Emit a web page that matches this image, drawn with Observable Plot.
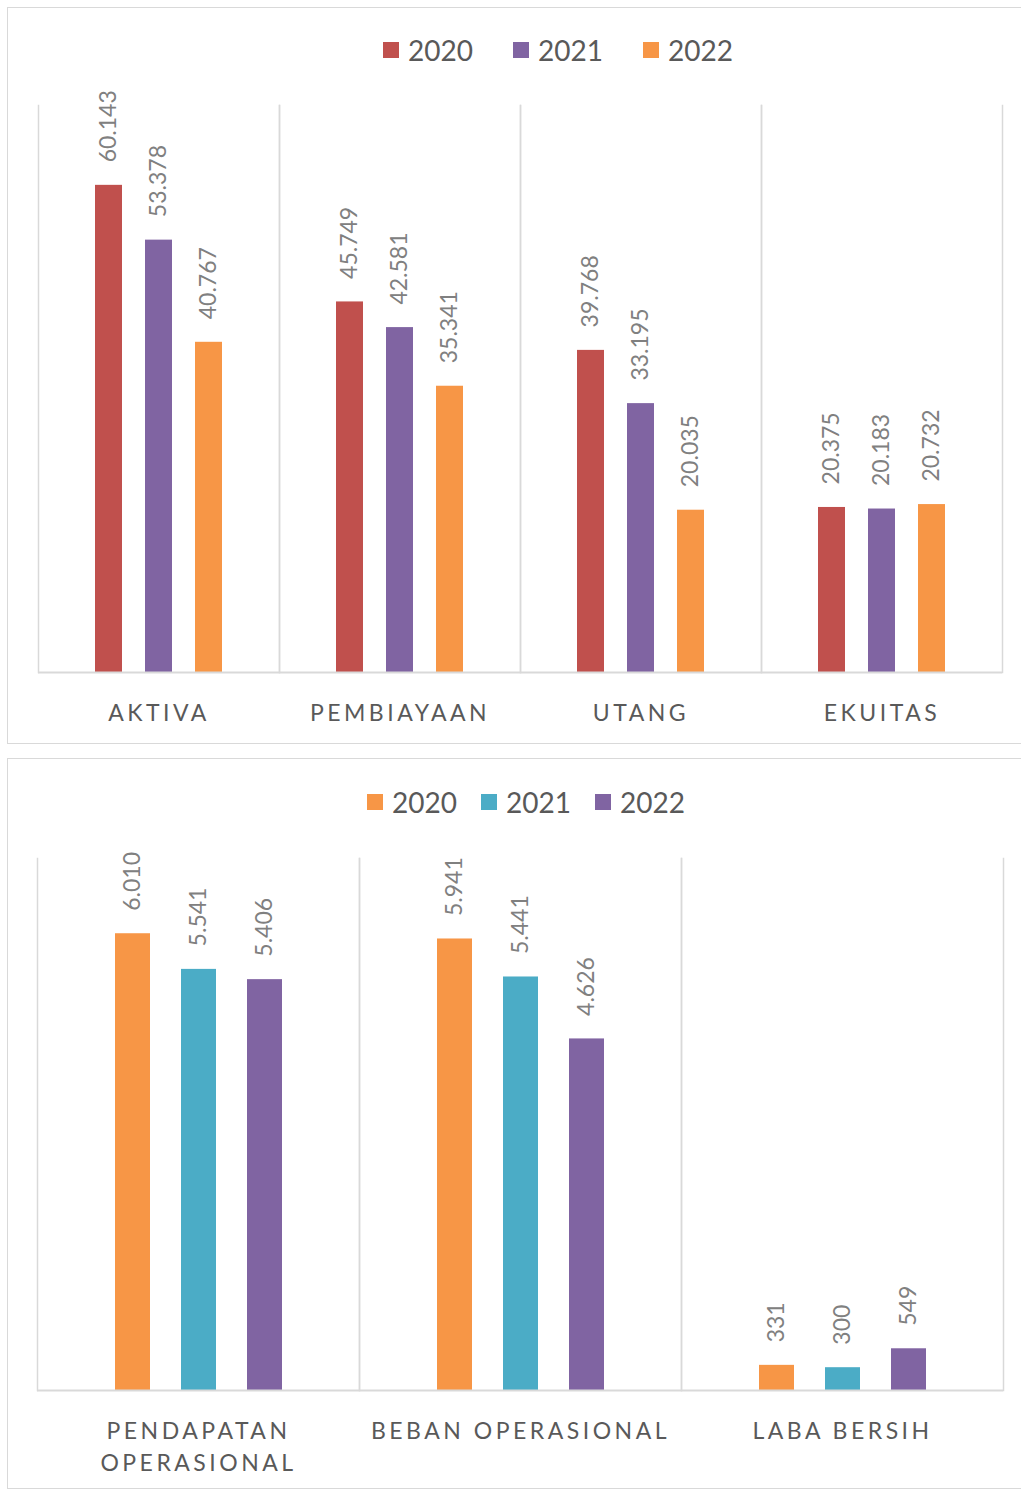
<!DOCTYPE html>
<html><head><meta charset="utf-8">
<script src="https://cdn.jsdelivr.net/npm/d3@7"></script>
<script src="https://cdn.jsdelivr.net/npm/@observablehq/plot@0.6"></script>
<style>
body{margin:0;background:#fff;font-family:Lato,sans-serif;}
#page{position:relative;width:1021px;height:1490px;overflow:hidden;background:#fff;}
.panel{position:absolute;border:1.5px solid #d9d9d9;box-sizing:border-box;}
.legend{position:absolute;display:flex;align-items:center;height:28px;font-size:28px;color:#595959;line-height:1;font-family:Lato,sans-serif;}
.legend .item{display:flex;align-items:center;}
.legend .sw{width:16px;height:16px;margin-right:9px;}
.chart{position:absolute;left:0;}
</style></head><body>
<div id="page">
  <div class="panel" style="left:7px;top:7px;width:1030px;height:737px;"></div>
  <div class="panel" style="left:7px;top:758px;width:1030px;height:731px;"></div>
  <div class="legend" id="legTop" style="left:383px;top:36px;"></div>
  <div class="legend" id="legBot" style="left:367px;top:788px;"></div>
  <div class="chart" id="chartTop" style="top:70px;"></div>
  <div class="chart" id="chartBot" style="top:820px;"></div>
</div>
<script>
// ---- data ----
const years = ["2020", "2021", "2022"];

const catsTop = ["AKTIVA", "PEMBIAYAAN", "UTANG", "EKUITAS"];
const top2020 = [60143, 45749, 39768, 20375];
const top2021 = [53378, 42581, 33195, 20183];
const top2022 = [40767, 35341, 20035, 20732];
const colorsTop = ["#C0504D", "#8064A2", "#F79646"];

const catsBot = ["PENDAPATAN\nOPERASIONAL", "BEBAN OPERASIONAL", "LABA BERSIH"];
const bot2020 = [6010, 5941, 331];
const bot2021 = [5541, 5441, 300];
const bot2022 = [5406, 4626, 549];
const colorsBot = ["#F79646", "#4BACC6", "#8064A2"];

const fmt = d3.formatLocale({decimal: ",", thousands: ".", grouping: [3], currency: ["", ""]}).format(",d");

function rowsOf(cats, series) {
  const rows = [];
  cats.forEach((c, i) => series.forEach((s, j) => rows.push({cat: c, year: years[j], value: s[i]})));
  return rows;
}

function legend(el, colors, gap) {
  const box = document.getElementById(el);
  years.forEach((y, i) => {
    const it = document.createElement("div");
    it.className = "item";
    if (i > 0) it.style.marginLeft = gap + "px";
    it.innerHTML = `<div class="sw" style="background:${colors[i]}"></div><span>${y}</span>`;
    box.appendChild(it);
  });
}

const labelColor = "#595959";

function chart(rows, cats, colors, yMax, h, mt, mb) {
  const grid = "#d9d9d9";
  const svg = Plot.plot({
    width: 1021, height: h,
    marginLeft: 36, marginRight: 18, marginTop: mt, marginBottom: mb,
    style: {fontFamily: "Lato, sans-serif", background: "transparent", overflow: "visible"},
    fx: {domain: cats, padding: 0, axis: null},
    x: {domain: years, paddingInner: 0.47, paddingOuter: 1.14, axis: null},
    y: {domain: [0, yMax], axis: null},
    color: {domain: years, range: colors},
    marks: [
      Plot.frame({anchor: "left", stroke: grid, strokeWidth: 1.5}),
      Plot.frame({anchor: "right", stroke: grid, strokeWidth: 1.5}),
      Plot.barY(rows, {fx: "cat", x: "year", y: "value", fill: "year"}),
      Plot.ruleY([0], {stroke: grid, strokeWidth: 2}),
      Plot.text(rows, {fx: "cat", x: "year", y: "value", text: d => fmt(d.value),
        rotate: -90, textAnchor: "start", lineAnchor: "middle", dy: -23,
        fill: "#808080", fontSize: 23}),
      Plot.text(cats, {fx: d => d, text: d => d, frameAnchor: "bottom", lineAnchor: "top",
        dy: 25, fontSize: 23, fill: labelColor, lineHeight: 1.42})
    ]
  });
  d3.select(svg).selectAll("text").filter(function () {
    const g = this.closest("g[fill]");
    return g && g.getAttribute("fill") === labelColor;
  }).style("letter-spacing", "3.5px");
  return svg;
}

legend("legTop", colorsTop, 40);
legend("legBot", colorsBot, 24);
document.getElementById("chartTop").appendChild(
  chart(rowsOf(catsTop, [top2020, top2021, top2022]), catsTop, colorsTop, 70000, 670, 35, 68));
document.getElementById("chartBot").appendChild(
  chart(rowsOf(catsBot, [bot2020, bot2021, bot2022]), catsBot, colorsBot, 7000, 660, 38, 90));
</script>
</body></html>
